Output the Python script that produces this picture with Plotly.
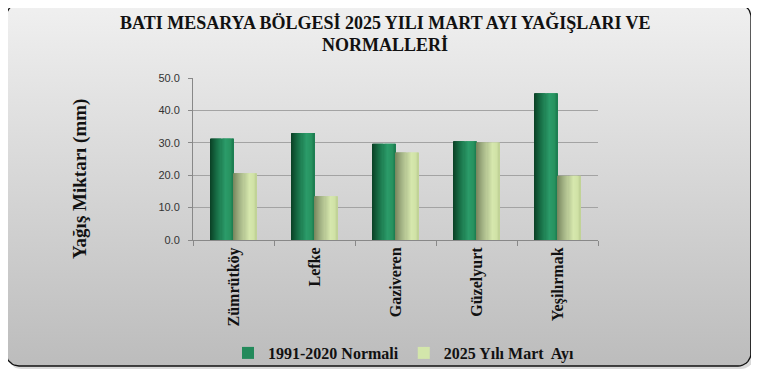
import numpy as np
import plotly.graph_objects as go
from plotly.colors import find_intermediate_color, hex_to_rgb

# ---------------- data ----------------
categories = ["Zümrütköy", "Lefke", "Gaziveren", "Güzelyurt", "Yeşilırmak"]
normal_1991_2020 = [31.3, 33.0, 29.7, 30.5, 45.3]
mart_2025 = [20.6, 13.5, 27.0, 30.1, 19.8]
series_names = ["1991-2020 Normali", "2025 Yılı Mart  Ayı"]
y_ticks = [0, 10, 20, 30, 40, 50]
title_lines = ["BATI MESARYA BÖLGESİ 2025 YILI MART AYI YAĞIŞLARI VE", "NORMALLERİ"]
y_title = "Yağış Miktarı (mm)"

# page has an 8px body margin: build the figure in "window pixels"
OFF = 8
WIN_W, WIN_H = 759, 374
W, H = WIN_W - OFF, WIN_H - OFF

def px(x):
    return (x - OFF) / W

def py(y):
    return (WIN_H - y) / H

fig = go.Figure()

# ---------------- background card (rounded, gradient) ----------------
def rounded_rect(x0, y0, x1, y1, r, n=10):
    xs, ys = [], []
    corners = [(x1 - r, y0 + r, -90, 0), (x1 - r, y1 - r, 0, 90),
               (x0 + r, y1 - r, 90, 180), (x0 + r, y0 + r, 180, 270)]
    for cx, cy, a0, a1 in corners:
        for a in np.linspace(np.radians(a0), np.radians(a1), n):
            xs.append(cx + r * np.cos(a))
            ys.append(cy + r * np.sin(a))
    xs.append(xs[0]); ys.append(ys[0])
    return xs, ys

sx, sy = rounded_rect(8, 6, 754, 369, 13)
fig.add_trace(go.Scatter(x=sx, y=sy, fill="toself", mode="lines",
                         line=dict(width=0), fillcolor="rgba(0,0,0,0.15)",
                         hoverinfo="skip", showlegend=False, xaxis="x", yaxis="y"))
bx, by = rounded_rect(6, 4, 751, 366, 13)
fig.add_trace(go.Scatter(x=bx, y=by, fill="toself", mode="lines",
                         line=dict(width=1.3, color="#111111"),
                         fillgradient=dict(type="vertical", start=4, stop=366,
                                           colorscale=[[0, "#f0f0f0"], [1, "#bcbcbc"]]),
                         hoverinfo="skip", showlegend=False, xaxis="x", yaxis="y"))

# ---------------- bars with horizontal gradient ----------------
def grad(stops, t):
    for i in range(len(stops) - 1):
        p0, c0 = stops[i]; p1, c1 = stops[i + 1]
        if p0 <= t <= p1:
            f = (t - p0) / (p1 - p0) if p1 > p0 else 0
            c = find_intermediate_color(hex_to_rgb(c0), hex_to_rgb(c1), f)
            return "rgb(%d,%d,%d)" % tuple(int(round(v)) for v in c)
    return stops[-1][1]

green_stops = [(0, "#0a3f25"), (0.3, "#176e45"), (0.65, "#2b9b69"), (0.88, "#27935f"), (1, "#1b7a4f")]
light_stops = [(0, "#76855c"), (0.3, "#a3b385"), (0.7, "#d6e7ad"), (0.9, "#d0e2a6"), (1, "#bccf92")]
legend_colors = ["#238a5b", "#d3e6ab"]

bar_w = 0.284
N = 22
series = [(normal_1991_2020, green_stops, -bar_w), (mart_2025, light_stops, 0.0)]
for si, (vals, stops, off0) in enumerate(series):
    for k in range(N):
        t = (k + 0.5) / N
        wk = bar_w / N * (1.6 if k < N - 1 else 1.0)
        fig.add_trace(go.Bar(
            x=categories, y=vals, width=wk,
            offset=off0 + k * bar_w / N,
            marker=dict(color=grad(stops, t), line=dict(width=0)),
            name=series_names[si], legendgroup=series_names[si],
            showlegend=False, xaxis="x2", yaxis="y2", hoverinfo="skip"))
    # legend entry
    fig.add_trace(go.Scatter(x=[None], y=[None], name=series_names[si], mode="markers",
                             marker=dict(color=legend_colors[si], symbol="square", size=8),
                             legendgroup=series_names[si], showlegend=True,
                             xaxis="x2", yaxis="y2"))

serif = "Liberation Serif"
fig.update_layout(
    width=W, height=H,
    margin=dict(l=0, r=0, t=0, b=0, autoexpand=False),
    paper_bgcolor="white", plot_bgcolor="rgba(0,0,0,0)",
    barmode="overlay",
    xaxis=dict(domain=[0, 1], range=[OFF, WIN_W], visible=False, fixedrange=True, automargin=False),
    yaxis=dict(domain=[0, 1], range=[WIN_H, OFF], visible=False, fixedrange=True, automargin=False),
    xaxis2=dict(domain=[px(193), px(598)], anchor="y2", type="category",
                categoryorder="array", categoryarray=categories,
                range=[-0.5, len(categories) - 0.5], automargin=False,
                tickangle=-90, ticks="outside", tickson="boundaries", ticklen=5,
                tickcolor="#888888", showline=True, linecolor="#888888", linewidth=1,
                showgrid=False,
                tickfont=dict(family=serif, size=16, color="#111111", weight="bold")),
    yaxis2=dict(domain=[py(240), py(78)], anchor="x2",
                range=[0, 50], tickvals=y_ticks, tickformat=".1f", automargin=False,
                ticks="outside", ticklen=4, tickcolor="#888888", ticklabelstandoff=6,
                showline=True, linecolor="#888888", linewidth=1,
                showgrid=True, gridcolor="#a3a3a3", gridwidth=1,
                zeroline=False,
                tickfont=dict(family="Liberation Sans", size=11, color="#333333")),
    annotations=[
        dict(text="<b>%s</b>" % title_lines[0], x=px(385), y=py(22),
             xref="paper", yref="paper", xanchor="center", yanchor="middle",
             showarrow=False, font=dict(family=serif, size=18, color="#111111")),
        dict(text="<b>%s</b>" % title_lines[1], x=px(385), y=py(45),
             xref="paper", yref="paper", xanchor="center", yanchor="middle",
             showarrow=False, font=dict(family=serif, size=18, color="#111111")),
        dict(text="<b>%s</b>" % y_title, x=px(80), y=py(179),
             xref="paper", yref="paper", xanchor="center", yanchor="middle",
             textangle=-90, showarrow=False,
             font=dict(family=serif, size=19, color="#111111")),
    ],
    legend=dict(orientation="h", x=px(228), xanchor="left", y=py(353), yanchor="middle",
                bgcolor="rgba(0,0,0,0)",
                font=dict(family=serif, size=16, color="#111111", weight="bold"),
                itemsizing="constant", traceorder="normal"),
    showlegend=True,
)

fig.write_html("out.html")
